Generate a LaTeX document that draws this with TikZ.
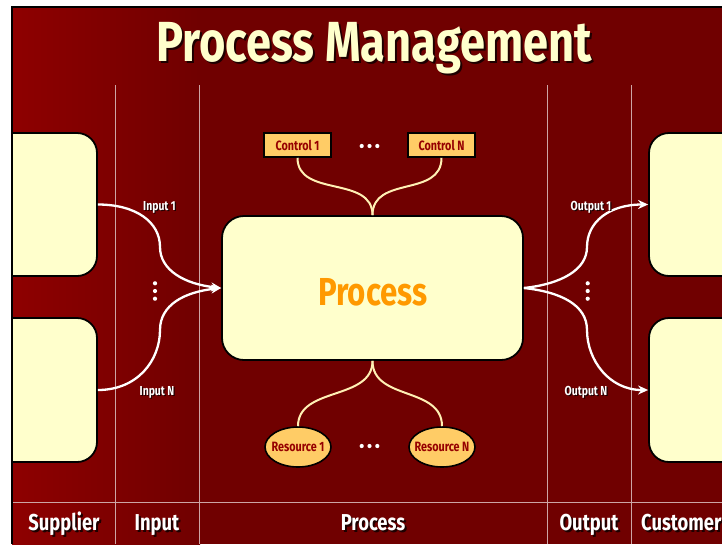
\documentclass[tikz,border=0pt]{standalone}
\usepackage{fontspec}
\setmainfont{Fira Sans}
\newfontfamily\cond[FakeStretch=0.8]{Fira Sans}
\usetikzlibrary{arrows.meta,shapes.geometric}
\definecolor{bgred}{RGB}{112,0,0}
\definecolor{bgred2}{RGB}{142,0,0}
\definecolor{cream}{RGB}{255,255,204}
\definecolor{ctrlfill}{RGB}{255,204,102}
\definecolor{lblred}{RGB}{150,0,0}
\definecolor{linecol}{RGB}{205,165,165}
\definecolor{curvecol}{RGB}{255,240,180}
\definecolor{proccol}{RGB}{255,153,0}
\definecolor{shadowc}{RGB}{30,0,0}
\newcommand\shd[1]{\rlap{\kern2pt\raisebox{-2pt}{\color{shadowc}#1}}#1}
\newcommand\shs[1]{\rlap{\kern1.2pt\raisebox{-1.2pt}{\color{shadowc}#1}}#1}
\newcommand\zw[1]{\makebox[0pt]{#1}}
\tikzset{
  bigbox/.style={draw=black, line width=1.8pt, fill=cream, rounded corners=20pt, inner sep=0pt},
  ctrlbox/.style={draw=black, line width=1.6pt, fill=ctrlfill, minimum width=67pt, minimum height=24pt, inner sep=0pt,
    font=\cond\bfseries\fontsize{13.5}{14}\selectfont, text=lblred},
  resell/.style={ellipse, draw=black, line width=1.6pt, fill=ctrlfill, minimum width=66pt, minimum height=40pt, inner sep=0pt,
    font=\cond\bfseries\fontsize{13.5}{14}\selectfont, text=lblred},
  flow/.style={draw=white, line width=2.3pt, -{Stealth[length=10pt,width=9pt]}},
  feed/.style={draw=curvecol, line width=2pt},
  sep/.style={draw=linecol, line width=1pt},
  smalllbl/.style={anchor=base, text=white, font=\cond\bfseries\fontsize{13}{14}\selectfont, inner sep=0pt},
  collbl/.style={anchor=base, text=white, font=\cond\bfseries\fontsize{23}{24}\selectfont, inner sep=0pt},
  dot/.style={fill=white},
}
\begin{document}
\begin{tikzpicture}[x=1pt,y=-1pt]
\useasboundingbox (0,0) rectangle (722,544);
\fill[white] (0,0) rectangle (722,544);
\fill[bgred] (12,7) rectangle (722,544);
\shade[left color=bgred2, right color=bgred] (12,7) rectangle (200,544);

% column separators
\draw[sep] (115,85) -- (115,544);
\draw[sep] (199,85) -- (199,544);
\draw[sep] (547,85) -- (547,544);
\draw[sep] (631,85) -- (631,544);
\draw[sep] (13,502) -- (722,502);

% title
\node[anchor=base, text=cream, font=\cond\bfseries\fontsize{56.5}{60}\selectfont, inner sep=0pt] (title) at (374,61) {\shd{Process Management}};

% supplier and customer boxes
\begin{scope}
\clip (13,8) rectangle (722,544);
\node[bigbox, minimum width=117pt, minimum height=143pt] (sup1) at (38.5,204.5) {};
\node[bigbox, minimum width=117pt, minimum height=144pt] (sup2) at (38.5,390) {};
\node[bigbox, minimum width=117pt, minimum height=143pt] (cus1) at (707.5,204.5) {};
\node[bigbox, minimum width=117pt, minimum height=144pt] (cus2) at (707.5,390) {};
\end{scope}
\draw[line width=2.5pt] (12,544) -- (12,7) -- (722,7);

% process
\node[bigbox, rounded corners=22pt, minimum width=301pt, minimum height=144pt] (proc) at (372.5,288) {};
\node[anchor=base, text=proccol, font=\cond\bfseries\fontsize{39}{40}\selectfont, inner sep=0pt] (proclbl) at (373,305) {Process};

% controls and resources
\node[ctrlbox] (c1) at (297.5,145) {Control 1};
\node[ctrlbox] (cN) at (441.5,145) {Control N};
\node[resell] (r1) at (298,447) {\zw{Resource 1}};
\node[resell] (rN) at (442,447) {\zw{Resource N}};

\draw[feed] (c1.south) .. controls +(0,40) and +(0,-40) .. (proc.north);
\draw[feed] (cN.south) .. controls +(0,40) and +(0,-40) .. (proc.north);
\draw[feed] (r1.north) .. controls +(0,-40) and +(0,40) .. (proc.south);
\draw[feed] (rN.north) .. controls +(0,-40) and +(0,40) .. (proc.south);

% inflection points
\coordinate (i1) at (160,247);
\coordinate (iN) at (160,330);
\coordinate (o1) at (587,247);
\coordinate (oN) at (587,330);

\draw[flow] (sup1.east) .. controls +(38,0) and +(0,-25) .. (i1) .. controls +(0,23) and +(-37,-4) .. (proc.west);
\draw[flow] (sup2.east) .. controls +(40,0) and +(0,30) .. (iN) .. controls +(0,-25) and +(-37,4) .. (proc.west);
\draw[flow] (proc.east) .. controls +(37,-4) and +(0,23) .. (o1) .. controls +(0,-25) and +(-39,0) .. (cus1.west);
\draw[flow] (proc.east) .. controls +(37,4) and +(0,-25) .. (oN) .. controls +(0,30) and +(-39,0) .. (cus2.west);

% dots
\foreach \y in {283.3,291,298.7} {\fill[dot] (155,\y) circle (2.1pt); \fill[dot] (587.7,\y) circle (2.1pt);}
\foreach \x in {361.7,369.5,377.3} {\fill[dot] (\x,146) circle (2.1pt); \fill[dot] (\x,446) circle (2.1pt);}

% flow labels
\node[smalllbl] (lin1) at (159.5,210) {\shs{Input 1}};
\node[smalllbl] (linN) at (157,395) {\shs{Input N}};
\node[smalllbl] (lout1) at (591,210) {\shs{Output 1}};
\node[smalllbl] (loutN) at (586,395) {\shs{Output N}};

% column labels
\node[collbl] (csup) at (64,530) {\shd{Supplier}};
\node[collbl] (cin) at (157,530) {\shd{Input}};
\node[collbl] (cpro) at (373,530) {\shd{Process}};
\node[collbl] (cout) at (589,530) {\shd{Output}};
\node[collbl, anchor=base west] (ccus) at (641,530) {\shd{Customer}};
\end{tikzpicture}
\end{document}
